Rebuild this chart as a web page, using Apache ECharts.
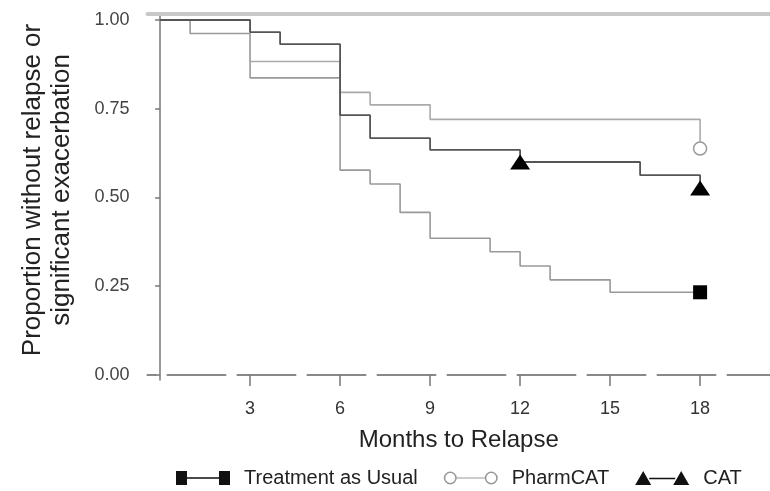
<!DOCTYPE html>
<html>
<head>
<meta charset="utf-8">
<script src="https://cdn.jsdelivr.net/npm/echarts@6/dist/echarts.min.js"></script>
<style>
  html, body { margin: 0; padding: 0; background: #fff; }
  #chart { width: 770px; height: 491px; }
</style>
</head>
<body>
<div id="chart"></div>
<script>
// Kaplan-Meier steps (months, proportion)
const tauMonths = [0, 1, 3, 6, 7, 8, 9, 11, 12, 13, 15, 18];
const tauSurv = [1, 0.962, 0.837, 0.577, 0.538, 0.458, 0.385, 0.347, 0.307, 0.268, 0.233, 0.233];

const pharmMonths = [0, 3, 6, 7, 9, 18, 18];
const pharmSurv = [1, 0.883, 0.796, 0.761, 0.72, 0.72, 0.638];

const catMonths = [0, 3, 4, 6, 7, 9, 12, 16, 18];
const catSurv = [1, 0.966, 0.932, 0.732, 0.667, 0.634, 0.6, 0.563, 0.527];
const catMarks = [12, 18];

const xTicks = [3, 6, 9, 12, 15, 18];
const yTicks = [0, 0.25, 0.5, 0.75, 1];

const seriesNames = ['Treatment as Usual', 'PharmCAT', 'CAT'];

var chartDom = document.getElementById('chart');
var myChart = echarts.init(chartDom);

// build points; marker only where asked
function buildData(months, surv, marks, marker) {
    return months.map(function (m, i) {
        var last = i === months.length - 1;
        var show = marks ? marks.indexOf(m) >= 0 && (m !== months[months.length - 1] || last) : last;
        if (show) {
            return Object.assign({ value: [m, surv[i]] }, marker);
        }
        return { value: [m, surv[i]], symbol: 'none' };
    });
}

var squareMark = { symbol: 'rect', symbolSize: 14, itemStyle: { color: '#000' } };
var circleMark = { symbol: 'circle', symbolSize: 13, itemStyle: { color: '#fff', borderColor: '#999', borderWidth: 1.5 } };
var triMark = { symbol: 'triangle', symbolSize: [20, 15], itemStyle: { color: '#000' } };

var iconSquares = 'path://M0,0 h11 v14 h-11 Z M11,6.3 h32 v1.4 h-32 Z M43,0 h11 v14 h-11 Z';
var iconCircles = 'path://M0,7 a6.5,6.5 0 1 0 13,0 a6.5,6.5 0 1 0 -13,0 Z M1.6,7 a4.9,4.9 0 1 1 9.8,0 a4.9,4.9 0 1 1 -9.8,0 Z M13,6.4 h28 v1.2 h-28 Z M41,7 a6.5,6.5 0 1 0 13,0 a6.5,6.5 0 1 0 -13,0 Z M42.6,7 a4.9,4.9 0 1 1 9.8,0 a4.9,4.9 0 1 1 -9.8,0 Z';
var iconTris = 'path://M0,14 L8,0 L16,14 Z M14,6.8 h26 v1.4 h-26 Z M38,14 L46,0 L54,14 Z';

var option = {
    animation: false,
    backgroundColor: '#fff',
    textStyle: { fontFamily: 'Liberation Sans, Arial, sans-serif' },
    grid: { left: 147.5, right: 0, top: 14, bottom: 111 },
    legend: {
        left: 176,
        top: 468,
        padding: 0,
        itemWidth: 54,
        itemHeight: 14,
        itemGap: 26,
        textStyle: { fontSize: 20, color: '#222', padding: [0, 0, 0, 9] },
        data: [
            { name: seriesNames[0], icon: iconSquares, itemStyle: { color: '#111', borderWidth: 0 } },
            { name: seriesNames[1], icon: iconCircles, itemStyle: { color: '#999', borderWidth: 0 } },
            { name: seriesNames[2], icon: iconTris, itemStyle: { color: '#111', borderWidth: 0 } }
        ]
    },
    xAxis: [
        {
            type: 'value',
            min: -0.42,
            max: 20.33,
            name: 'Months to Relapse',
            nameLocation: 'middle',
            nameGap: 48,
            nameTextStyle: { fontSize: 24, color: '#222' },
            axisLine: { show: true, lineStyle: { color: '#888', width: 2, type: [58, 12], dashOffset: 50 } },
            axisTick: { show: true, length: 11, customValues: xTicks, lineStyle: { color: '#777', width: 1.5 } },
            axisLabel: { customValues: xTicks, margin: 20, fontSize: 18, color: '#333' },
            splitLine: { show: false }
        },
        {
            type: 'value',
            position: 'top',
            min: -0.42,
            max: 20.33,
            axisLine: { show: true, lineStyle: { color: '#c8c8c8', width: 4 } },
            axisTick: { show: false },
            axisLabel: { show: false },
            splitLine: { show: false }
        }
    ],
    yAxis: {
        type: 'value',
        min: -0.0141,
        max: 1.0169,
        name: 'Proportion without relapse or\nsignificant exacerbation',
        nameLocation: 'middle',
        nameRotate: 90,
        nameGap: 71,
        nameTextStyle: { fontSize: 26, color: '#222', lineHeight: 29, padding: [0, 0, 0, 14] },
        axisLine: { show: true, lineStyle: { color: '#777', width: 1.5 } },
        axisTick: { show: true, length: 5, customValues: yTicks, lineStyle: { color: '#777', width: 1.5 } },
        axisLabel: {
            customValues: yTicks,
            margin: 18,
            fontSize: 18,
            color: '#444',
            formatter: function (v) { return v.toFixed(2); }
        },
        splitLine: { show: false }
    },
    series: [
        {
            name: seriesNames[0],
            type: 'line',
            step: 'end',
            color: '#999',
            lineStyle: { color: '#999', width: 1.6 },
            data: buildData(tauMonths, tauSurv, null, squareMark),
            z: 3
        },
        {
            name: seriesNames[1],
            type: 'line',
            step: 'end',
            color: '#aaa',
            lineStyle: { color: '#aaa', width: 1.6 },
            data: buildData(pharmMonths, pharmSurv, null, circleMark),
            z: 3
        },
        {
            name: seriesNames[2],
            type: 'line',
            step: 'end',
            color: '#555',
            lineStyle: { color: '#555', width: 1.8 },
            data: buildData(catMonths, catSurv, catMarks, triMark),
            z: 4
        }
    ]
};

myChart.setOption(option);
</script>
</body>
</html>
